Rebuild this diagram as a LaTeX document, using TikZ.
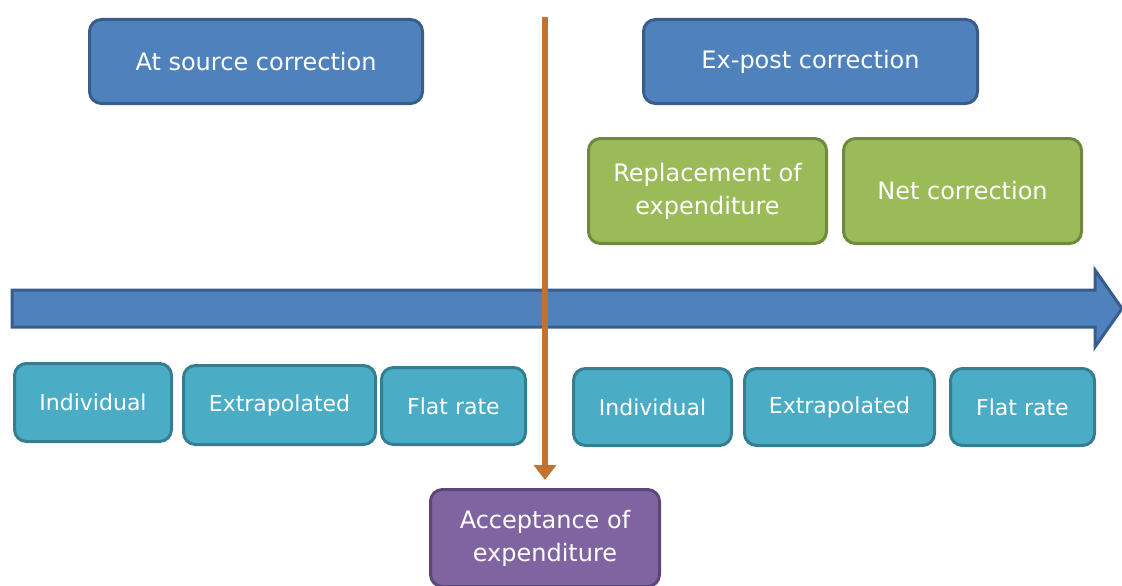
\documentclass[tikz,border=0pt]{standalone}
\usepackage{fontspec}
\setmainfont{DejaVu Sans}
\usetikzlibrary{arrows.meta}
\definecolor{bluefill}{HTML}{4F81BD}
\definecolor{blueedge}{HTML}{385D8A}
\definecolor{greenfill}{HTML}{9BBB59}
\definecolor{greenedge}{HTML}{71893F}
\definecolor{tealfill}{HTML}{4BACC6}
\definecolor{tealedge}{HTML}{357D91}
\definecolor{purplefill}{HTML}{8064A2}
\definecolor{purpleedge}{HTML}{5C4776}
\definecolor{orangeline}{HTML}{C2722F}
\tikzset{
  box/.style={rectangle, rounded corners=12pt, line width=3pt, text=white,
    align=center, inner sep=0pt, font=\fontsize{24}{33}\selectfont},
  bluebox/.style={box, fill=bluefill, draw=blueedge},
  greenbox/.style={box, fill=greenfill, draw=greenedge},
  tealbox/.style={box, fill=tealfill, draw=tealedge, minimum height=77pt,
    font=\fontsize{22}{30}\selectfont},
  purplebox/.style={box, fill=purplefill, draw=purpleedge},
  timeline/.style={fill=bluefill, draw=blueedge, line width=3pt, line join=miter},
  flow/.style={draw=orangeline, line width=6pt, -{Triangle[width=22pt,length=15pt]}}
}
\begin{document}
\begin{tikzpicture}[x=1pt,y=-1pt]
\useasboundingbox (0,0) rectangle (1122,586);
% top boxes
\node[bluebox, minimum width=333pt, minimum height=84pt] (src) at (256,61.5) {At source correction};
\node[bluebox, minimum width=334pt, minimum height=84pt] (expost) at (810.5,61.5) {Ex-post correction};
\node[greenbox, minimum width=238pt, minimum height=105pt] (repl) at (707.5,191) {Replacement of\\expenditure};
\node[greenbox, minimum width=238pt, minimum height=105pt] (net) at (962.5,191) {Net correction};
% timeline arrow
\path[timeline] (12,290) -- (1095,290) -- (1095,270) -- (1122,308.5) -- (1095,347) -- (1095,327) -- (12,327) -- cycle;
% bottom boxes
\node[tealbox, minimum width=157pt, minimum height=78pt] (ind1) at (93,402.5) {Individual};
\node[tealbox, minimum width=192pt, minimum height=79pt] (ext1) at (279.5,405) {Extrapolated};
\node[tealbox, minimum width=144pt] (flat1) at (453.5,406) {Flat rate};
\node[tealbox, minimum width=158pt] (ind2) at (652.5,407) {Individual};
\node[tealbox, minimum width=190pt] (ext2) at (839.5,407) {Extrapolated};
\node[tealbox, minimum width=144pt] (flat2) at (1022.5,407) {Flat rate};
% acceptance
\node[purplebox, minimum width=229pt, minimum height=97pt] (acc) at (545,538) {Acceptance of\\expenditure};
% orange flow
\coordinate (start) at (545,17);
\draw[flow, shorten >=8pt] (start) -- (acc.north);
\end{tikzpicture}
\end{document}
